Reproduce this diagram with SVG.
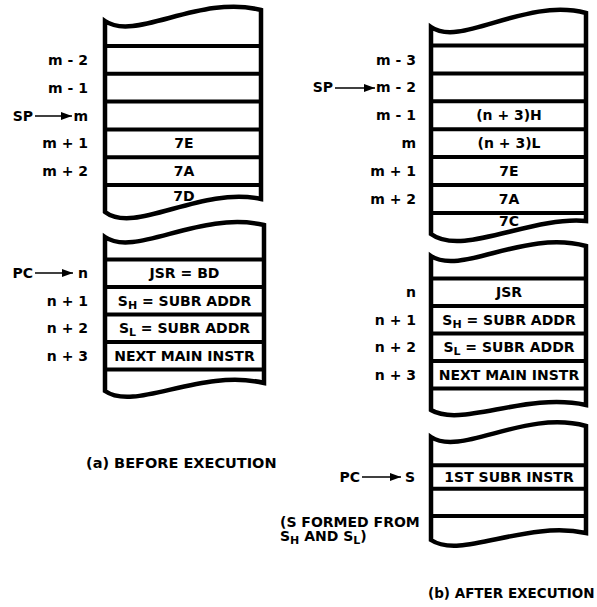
<svg xmlns="http://www.w3.org/2000/svg" width="597" height="607" viewBox="0 0 597 607">
<style>
.stk{fill:#fff;stroke:#000;stroke-width:4.5;stroke-linejoin:miter}
.sep{stroke:#000;stroke-width:4}
text{font-family:"DejaVu Sans","Liberation Sans",sans-serif;font-weight:bold;font-size:14px;fill:#000}
.c{text-anchor:middle}
.r{text-anchor:end}
.sub{font-size:11px}
.arr{stroke:#000;stroke-width:1.6;fill:none;marker-end:url(#ah)}
</style>
<defs>
<marker id="ah" markerUnits="userSpaceOnUse" markerWidth="11" markerHeight="8" refX="11" refY="4" orient="auto"><path d="M0,0 L11,4 L0,8 z" fill="#000"/></marker>
</defs>
<rect width="597" height="607" fill="#fff"/>

<g id="before-stack">
<path class="stk" d="M105,21 C135,42 200,-6 261,10 L261,199 C200,186 135,235 105,212 Z"/>
<line class="sep" x1="105" y1="46" x2="261" y2="46"/>
<line class="sep" x1="105" y1="73.8" x2="261" y2="73.8"/>
<line class="sep" x1="105" y1="101.6" x2="261" y2="101.6"/>
<line class="sep" x1="105" y1="129.4" x2="261" y2="129.4"/>
<line class="sep" x1="105" y1="157.2" x2="261" y2="157.2"/>
<line class="sep" x1="105" y1="185" x2="261" y2="185"/>
<text class="c" x="184" y="148.3">7E</text>
<text class="c" x="184" y="176.1">7A</text>
<text class="c" x="184" y="200.5">7D</text>
<text class="r" x="88" y="64.9">m - 2</text>
<text class="r" x="88" y="92.7">m - 1</text>
<text class="r" x="88" y="120.5">m</text>
<text class="r" x="88" y="148.3">m + 1</text>
<text class="r" x="88" y="176.1">m + 2</text>
<text class="r" x="33" y="120.5">SP</text>
</g>

<g id="before-program">
<path class="stk" d="M105,237 C135,258 200,210 264,225 L264,383 C200,368 135,412 105,391 Z"/>
<line class="sep" x1="105" y1="259.5" x2="264" y2="259.5"/>
<line class="sep" x1="105" y1="287" x2="264" y2="287"/>
<line class="sep" x1="105" y1="314.5" x2="264" y2="314.5"/>
<line class="sep" x1="105" y1="342" x2="264" y2="342"/>
<line class="sep" x1="105" y1="369.5" x2="264" y2="369.5"/>
<text class="c" x="184.5" y="278">JSR = BD</text>
<text class="c" x="184.5" y="305.5">S<tspan class="sub" dy="3">H</tspan><tspan dy="-3"> = SUBR ADDR</tspan></text>
<text class="c" x="184.5" y="333">S<tspan class="sub" dy="3">L</tspan><tspan dy="-3"> = SUBR ADDR</tspan></text>
<text class="c" x="184.5" y="360.5">NEXT MAIN INSTR</text>
<text class="r" x="88" y="278">n</text>
<text class="r" x="88" y="305.5">n + 1</text>
<text class="r" x="88" y="333">n + 2</text>
<text class="r" x="88" y="360.5">n + 3</text>
<text class="r" x="33" y="278">PC</text>
</g>

<g id="after-stack">
<path class="stk" d="M431,27 C461,48 525,-3 586,13 L586,221 C530,216 462,257 431,234 Z"/>
<line class="sep" x1="431" y1="45.5" x2="586" y2="45.5"/>
<line class="sep" x1="431" y1="73.4" x2="586" y2="73.4"/>
<line class="sep" x1="431" y1="101.3" x2="586" y2="101.3"/>
<line class="sep" x1="431" y1="129.2" x2="586" y2="129.2"/>
<line class="sep" x1="431" y1="157.1" x2="586" y2="157.1"/>
<line class="sep" x1="431" y1="185" x2="586" y2="185"/>
<line class="sep" x1="431" y1="212.9" x2="586" y2="212.9"/>
<text class="c" x="509" y="120.3">(n + 3)H</text>
<text class="c" x="509" y="148.2">(n + 3)L</text>
<text class="c" x="509" y="176.1">7E</text>
<text class="c" x="509" y="204">7A</text>
<text class="c" x="509" y="226">7C</text>
<text class="r" x="416" y="64.5">m - 3</text>
<text class="r" x="416" y="92.4">m - 2</text>
<text class="r" x="416" y="120.3">m - 1</text>
<text class="r" x="416" y="148.2">m</text>
<text class="r" x="416" y="176.1">m + 1</text>
<text class="r" x="416" y="204">m + 2</text>
<text class="r" x="333" y="92.4">SP</text>
</g>

<g id="after-program">
<path class="stk" d="M431,256 C461,276 525,229 586,246 L586,405 C525,392 461,428 431,410 Z"/>
<line class="sep" x1="431" y1="278.5" x2="586" y2="278.5"/>
<line class="sep" x1="431" y1="306" x2="586" y2="306"/>
<line class="sep" x1="431" y1="333.5" x2="586" y2="333.5"/>
<line class="sep" x1="431" y1="361" x2="586" y2="361"/>
<line class="sep" x1="431" y1="388.5" x2="586" y2="388.5"/>
<text class="c" x="509" y="297.2">JSR</text>
<text class="c" x="509" y="324.7">S<tspan class="sub" dy="3">H</tspan><tspan dy="-3"> = SUBR ADDR</tspan></text>
<text class="c" x="509" y="352.2">S<tspan class="sub" dy="3">L</tspan><tspan dy="-3"> = SUBR ADDR</tspan></text>
<text class="c" x="509" y="379.7">NEXT MAIN INSTR</text>
<text class="r" x="416" y="297.2">n</text>
<text class="r" x="416" y="324.7">n + 1</text>
<text class="r" x="416" y="352.2">n + 2</text>
<text class="r" x="416" y="379.7">n + 3</text>
</g>

<g id="after-subroutine">
<path class="stk" d="M431,437 C461,457 525,409 586,426 L586,533 C525,520 461,560 431,540 Z"/>
<line class="sep" x1="431" y1="465.3" x2="586" y2="465.3"/>
<line class="sep" x1="431" y1="488.7" x2="586" y2="488.7"/>
<line class="sep" x1="431" y1="516" x2="586" y2="516"/>
<text class="c" x="509" y="482">1ST SUBR INSTR</text>
<text class="r" x="415" y="482">S</text>
<text class="r" x="360" y="482">PC</text>
<text x="280" y="526.5">(S FORMED FROM</text>
<text x="280" y="541">S<tspan class="sub" dy="3">H</tspan><tspan dy="-3"> AND S</tspan><tspan class="sub" dy="3">L</tspan><tspan dy="-3">)</tspan></text>
</g>

<g id="connectors">
<line class="arr" x1="35" y1="116" x2="72" y2="116"/>
<line class="arr" x1="335" y1="88" x2="375" y2="88"/>
<line class="arr" x1="35" y1="273" x2="73" y2="273"/>
<line class="arr" x1="362" y1="477" x2="401" y2="477"/>
</g>

<g id="captions">
<text x="86" y="468" style="font-size:14.5px">(a) BEFORE EXECUTION</text>
<text x="428" y="598" style="font-size:13.5px">(b) AFTER EXECUTION</text>
</g>
</svg>
